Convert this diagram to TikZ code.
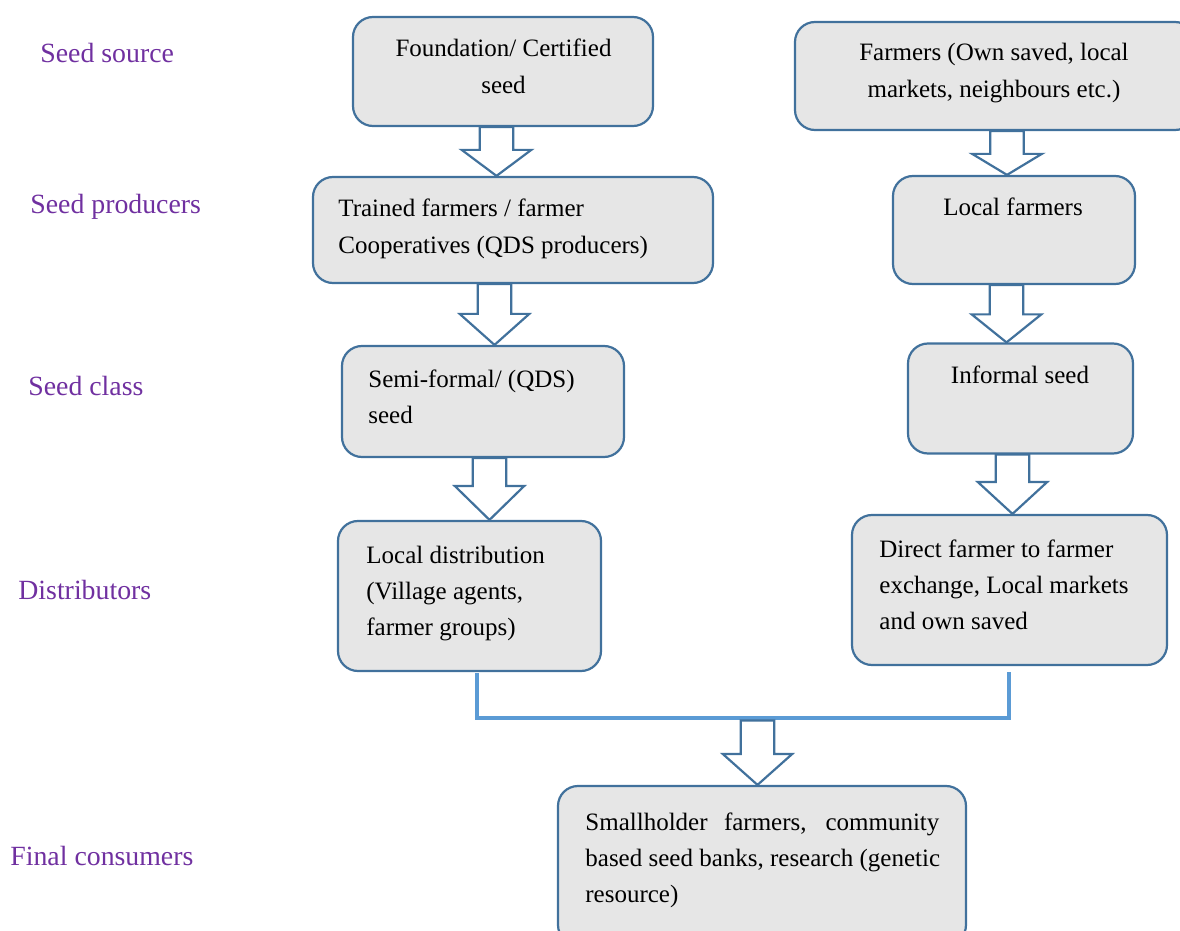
\documentclass[tikz,border=0pt]{standalone}
\usepackage{fontspec}
\setmainfont{Liberation Serif}
\usetikzlibrary{calc}
\definecolor{bdr}{HTML}{41719C}
\definecolor{boxfill}{HTML}{E6E6E6}
\definecolor{labc}{HTML}{7030A0}
\definecolor{brkc}{HTML}{5B9BD5}
\newcommand\tlines[2]{\begin{tabular}[t]{@{}#1@{}}#2\end{tabular}}
\newcommand\barrow[3]{\draw[blk] let \p1=(#1), \p2=(#2) in
  (\x1-8.4pt,\y1) -- (\x1-8.4pt,\y2+#3) -- (\x1-17.4pt,\y2+#3) -- (\x1,\y2)
  -- (\x1+17.4pt,\y2+#3) -- (\x1+8.4pt,\y2+#3) -- (\x1+8.4pt,\y1) -- cycle;}
\begin{document}
\begin{tikzpicture}[x=0.5pt,y=-0.5pt,
  box/.style={draw=bdr, fill=boxfill, line width=1.1pt, rounded corners=10pt, inner sep=0pt},
  txt/.style={inner sep=0pt, text=black, font=\fontsize{12.5}{18.2}\selectfont},
  lab/.style={inner sep=0pt, anchor=base west, text=labc, font=\fontsize{13.9}{16}\selectfont},
  blk/.style={draw=bdr, fill=white, line width=1.1pt},
  brkline/.style={draw=brkc, line width=1.6pt}]
\useasboundingbox (0,0) rectangle (1180,931);
\clip (0,0) rectangle (1180,931);

% boxes
\node[box, minimum width=150pt, minimum height=54.5pt] (b1) at (503,71.5) {};
\node[box, minimum width=200pt, minimum height=54pt] (b2) at (995,76) {};
\node[box, minimum width=200pt, minimum height=53pt] (b3) at (513,230) {};
\node[box, minimum width=121pt, minimum height=54pt] (b4) at (1014,230) {};
\node[box, minimum width=141pt, minimum height=55.5pt] (b5) at (483,401.5) {};
\node[box, minimum width=112.5pt, minimum height=55pt] (b6) at (1020.5,398.5) {};
\node[box, minimum width=131.5pt, minimum height=75pt] (b7) at (469.5,596) {};
\node[box, minimum width=157.5pt, minimum height=75pt] (b8) at (1009.5,590) {};
\node[box, minimum width=204pt, minimum height=79.5pt] (b9) at (762,865.5) {};

% texts
\node[txt, anchor=base] (t1) at (503.5,57) {\tlines{c}{Foundation/ Certified\\seed}};
\node[txt, anchor=base] (t2) at (994,61) {\tlines{c}{Farmers (Own saved, local\\markets, neighbours etc.)}};
\node[txt, anchor=base west] (t3) at (338,217) {\tlines{l}{Trained farmers / farmer\\Cooperatives (QDS producers)}};
\node[txt, anchor=base] (t4) at (1013,216) {Local farmers};
\node[txt, anchor=base west] (t5) at (368,387) {\tlines{l}{Semi-formal/ (QDS)\\seed}};
\node[txt, anchor=base] (t6) at (1020,384) {Informal seed};
\node[txt, anchor=base west] (t7) at (366,563) {\tlines{l}{Local distribution\\(Village agents,\\farmer groups)}};
\node[txt, anchor=base west] (t8) at (879,557) {\tlines{l}{Direct farmer to farmer\\exchange, Local markets\\and own saved}};
\node[txt, anchor=base west] (t9) at (585,830) {\tlines{l}{\makebox[177pt][s]{Smallholder farmers, community}\\based seed banks, research (genetic\\resource)}};

% row labels
\node[lab] (l1) at (40,62.5) {Seed source};
\node[lab] (l2) at (30,214) {Seed producers};
\node[lab] (l3) at (28,395) {Seed class};
\node[lab] (l4) at (18,599) {Distributors};
\node[lab] (l5) at (10,865) {Final consumers};

% block arrows
\coordinate (ax1) at (496.5,0);
\coordinate (ax2) at (1007,0);
\coordinate (ax3) at (494.5,0);
\coordinate (ax4) at (1006.5,0);
\coordinate (ax5) at (489.5,0);
\coordinate (ax6) at (1012.5,0);
\barrow{b1.south -| ax1}{b3.north -| ax1}{13pt}
\barrow{b2.south -| ax2}{b4.north -| ax2}{10.5pt}
\barrow{b3.south -| ax3}{b5.north -| ax3}{15.5pt}
\barrow{b4.south -| ax4}{b6.north -| ax4}{14pt}
\barrow{b5.south -| ax5}{b7.north -| ax5}{17pt}
\barrow{b6.south -| ax6}{b8.north -| ax6}{16pt}

% bracket joining both distributors
\coordinate (bkl) at (477,673);
\coordinate (bkr) at (1009,672);
\coordinate (jn) at (757.5,718);
\coordinate (jn2) at (757.5,720.5);
\draw[brkline] (bkl) |- (jn) -| (bkr);
\barrow{jn2}{b9.north -| jn2}{15.5pt}
\end{tikzpicture}
\end{document}
